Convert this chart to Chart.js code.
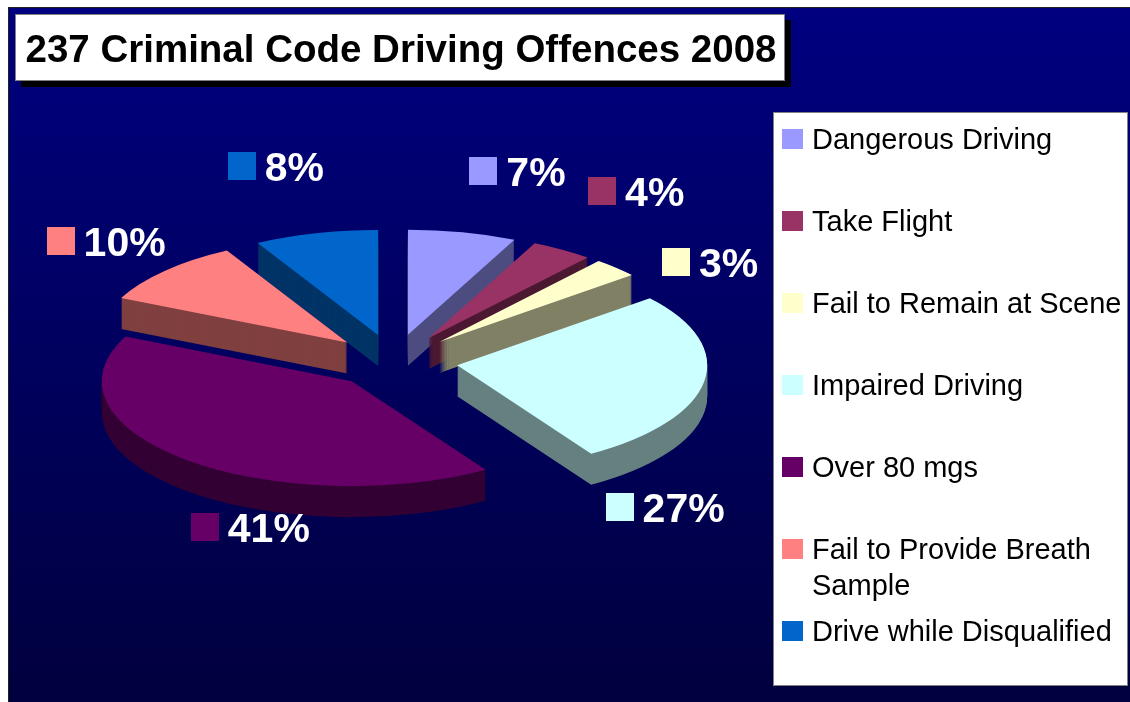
<!DOCTYPE html>
<html>
<head>
<meta charset="utf-8">
<script src="https://cdn.jsdelivr.net/npm/chart.js@4.4.1/dist/chart.umd.min.js"></script>
<style>
  html, body { margin: 0; padding: 0; background: #fff; }
  canvas { display: block; }
</style>
</head>
<body>
<canvas id="pie" width="1130" height="702"></canvas>
<script>
// Chart data
const chartTitle = "237 Criminal Code Driving Offences 2008";
const categories = [
  "Dangerous Driving",
  "Take Flight",
  "Fail to Remain at Scene",
  "Impaired Driving",
  "Over 80 mgs",
  "Fail to Provide Breath Sample",
  "Drive while Disqualified"
];
const percentages = [7, 4, 3, 27, 41, 10, 8];

// Styling
const sliceColors = ["#9999FF", "#993366", "#FFFFCC", "#CCFFFF", "#660066", "#FF8080", "#0066CC"];
const sideColors  = ["#4C4C80", "#4C1933", "#808066", "#668080", "#330033", "#804040", "#003366"];
const FONT = '"Liberation Sans", Arial, Helvetica, sans-serif';
const TILT = 0.42;      // vertical squash of the pie
const EXPLODE = 64;     // how far each slice is pulled out
const DEPTH = 31;       // thickness of the 3d pie in px
// label nudges (relative to the slice's outer edge at its middle angle)
const labelNudge = [[55, -61], [74, -59], [94, -6], [-39, 125], [64, 67], [-59, -30], [-40, -67]];

// Background + frame
const backdrop = {
  id: "backdrop",
  beforeDraw(chart) {
    const ctx = chart.ctx;
    ctx.save();
    ctx.fillStyle = "#ffffff";
    ctx.fillRect(0, 0, chart.width, chart.height);
    let grad = ctx.createLinearGradient(0, 7, 0, chart.height);
    grad.addColorStop(0, "#000080");
    grad.addColorStop(1, "#00003E");
    ctx.fillStyle = grad;
    ctx.fillRect(8, 7, chart.width - 8, chart.height - 7);
    // thin dark frame on the top and left edge
    ctx.strokeStyle = "#222222";
    ctx.lineWidth = 1;
    ctx.beginPath();
    ctx.moveTo(8.5, chart.height);
    ctx.lineTo(8.5, 7.5);
    ctx.lineTo(chart.width, 7.5);
    ctx.stroke();
    ctx.restore();
  }
};

// Fake 3d pie: squash, explode, extrude
const pie3d = {
  id: "pie3d",
  beforeDatasetsDraw(chart) {
    const ctx = chart.ctx;
    const arcs = chart.getDatasetMeta(0).data;
    const mid = a => (a.startAngle + a.endAngle) / 2;
    const cx = arcs[0].x, cy = arcs[0].y;

    // back slices first
    let order = arcs.map((a, i) => i).sort((i, j) => Math.sin(mid(arcs[i])) - Math.sin(mid(arcs[j])));

    order.forEach(i => {
      const arc = arcs[i];
      const m = mid(arc);
      const base = arc.options;
      ctx.save();
      ctx.translate(cx, cy);
      ctx.scale(1, TILT);
      ctx.translate(-cx, -cy);
      ctx.translate(Math.cos(m) * EXPLODE, Math.sin(m) * EXPLODE);

      // side walls
      arc.options = Object.assign({}, base, { backgroundColor: sideColors[i], borderWidth: 0 });
      for (let d = DEPTH; d > 0; d--) {
        ctx.save();
        ctx.translate(0, d / TILT);
        arc.draw(ctx);
        ctx.restore();
      }
      // top face
      arc.options = base;
      arc.draw(ctx);
      ctx.restore();
    });

    // percentage labels
    ctx.save();
    ctx.font = "bold 41px " + FONT;
    ctx.textBaseline = "alphabetic";
    arcs.forEach((arc, i) => {
      const m = mid(arc);
      const r = arc.outerRadius + EXPLODE;
      const px = cx + Math.cos(m) * r + labelNudge[i][0];
      const py = cy + Math.sin(m) * r * TILT + labelNudge[i][1];
      const txt = percentages[i] + "%";
      const tw = ctx.measureText(txt).width;
      const w = 28 + 9 + tw;
      const left = px - w / 2;
      ctx.fillStyle = sliceColors[i];
      ctx.fillRect(Math.round(left), Math.round(py - 14), 28, 28);
      ctx.fillStyle = "#ffffff";
      ctx.fillText(txt, left + 37, py + 15);
    });
    ctx.restore();

    return false;
  }
};

// Title box with drop shadow
const titleBox = {
  id: "titleBox",
  afterDraw(chart) {
    const ctx = chart.ctx;
    ctx.save();
    ctx.fillStyle = "#000000";
    ctx.fillRect(21, 20, 770, 67);
    ctx.fillStyle = "#ffffff";
    ctx.fillRect(15, 14, 770, 67);
    ctx.strokeStyle = "#808080";
    ctx.lineWidth = 1;
    ctx.strokeRect(15.5, 14.5, 769, 66);
    ctx.fillStyle = "#000000";
    ctx.font = "bold 38.5px " + FONT;
    ctx.textAlign = "center";
    ctx.fillText(chartTitle, 401, 62);
    ctx.restore();
  }
};

// split a legend label into lines that fit
function wrapText(ctx, text, maxW) {
  let words = text.split(" ");
  let lines = [];
  let line = "";
  words.forEach(w => {
    let test = line ? line + " " + w : w;
    if (ctx.measureText(test).width > maxW && line) {
      lines.push(line);
      line = w;
    } else {
      line = test;
    }
  });
  lines.push(line);
  return lines;
}

// Legend box on the right
const legendBox = {
  id: "legendBox",
  afterDraw(chart) {
    const ctx = chart.ctx;
    const labels = chart.data.labels;
    const colors = chart.data.datasets[0].backgroundColor;
    ctx.save();
    ctx.fillStyle = "#ffffff";
    ctx.fillRect(773, 112, 355, 574);
    ctx.strokeStyle = "#808080";
    ctx.lineWidth = 1;
    ctx.strokeRect(773.5, 112.5, 354, 573);
    ctx.font = "29px " + FONT;
    labels.forEach((lab, i) => {
      const y = 139 + i * 82;
      ctx.fillStyle = colors[i];
      ctx.fillRect(782, y - 10, 21, 20);
      ctx.fillStyle = "#000000";
      wrapText(ctx, lab, 316).forEach((ln, k) => {
        ctx.fillText(ln, 812, y + 10 + k * 36);
      });
    });
    ctx.restore();
  }
};

const pieChart = new Chart(document.getElementById("pie").getContext("2d"), {
  type: "pie",
  data: {
    labels: categories,
    datasets: [{
      data: percentages,
      backgroundColor: sliceColors,
      borderWidth: 0,
      radius: 250
    }]
  },
  options: {
    responsive: false,
    animation: false,
    layout: { padding: { left: 0, right: 342, top: 20, bottom: 0 } },
    plugins: {
      legend: { display: false },
      title: { display: false },
      tooltip: { enabled: false }
    }
  },
  plugins: [backdrop, pie3d, titleBox, legendBox]
});
</script>
</body>
</html>
